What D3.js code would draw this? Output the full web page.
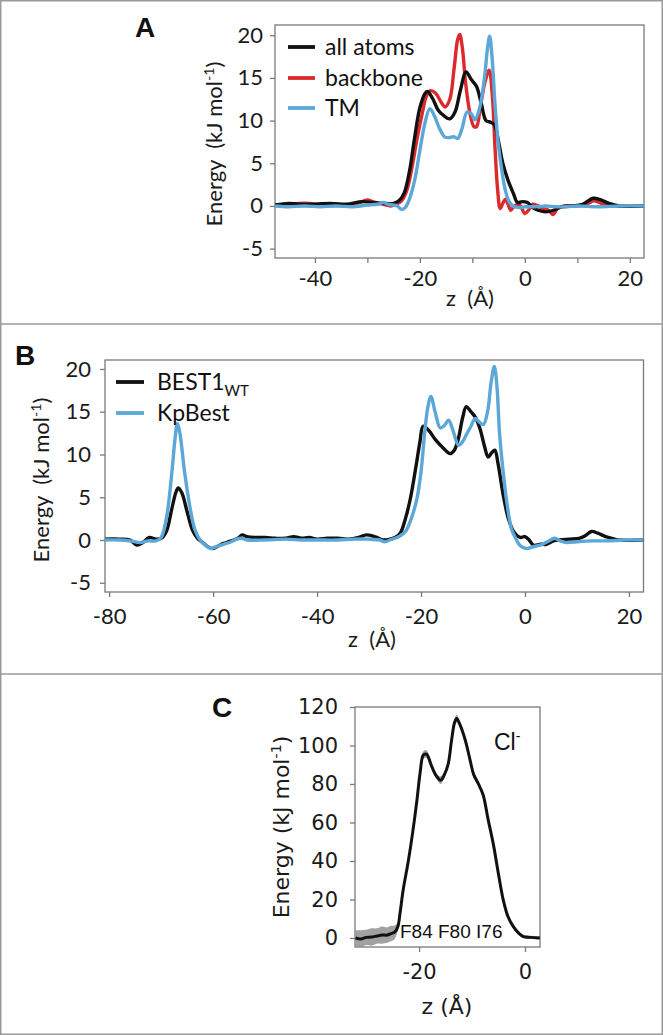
<!DOCTYPE html>
<html><head><meta charset="utf-8">
<script src="https://cdn.jsdelivr.net/npm/d3@7"></script>
<style>
html,body{margin:0;padding:0;background:#fff;}
svg text{white-space:pre;}
</style></head>
<body>
<svg id="fig" width="663" height="1035"></svg>
<script>
// ---------------- DATA ----------------
// Panel A: energy profiles (z in Å, energy in kJ/mol)
const aAllAtoms = [[-47.6,0.1],[-45,0.3],[-43,0.2],[-40,0.2],[-37,0.3],[-34,0.2],[-31,0.5],[-29,0.4],[-27,0.3],[-25,0.3],[-24,0.6],[-23,1.5],[-22,4],[-21,8],[-20,11.5],[-19,13.2],[-18.5,13.4],[-17.5,12.5],[-16.5,11.2],[-15.5,10.6],[-14.3,10.2],[-13.3,11],[-12.3,13.5],[-11.2,15.7],[-10.2,14.8],[-9.2,14],[-8.3,12],[-7.4,10],[-6.5,9.8],[-5.8,9.5],[-5,7.5],[-4.2,5],[-3.2,3],[-2.2,1.5],[-1.4,0.4],[-0.5,0.5],[0.5,0.4],[1.5,-0.2],[2.5,-0.5],[4,-0.7],[5.5,-0.5],[7,-0.1],[9,0],[11,0.2],[13,0.9],[14.5,0.7],[16,0.3],[18,0],[22.7,0]];
const aBackbone = [[-47.6,0.1],[-45,0.1],[-43,0.3],[-41,0.3],[-39,0.1],[-36,0.2],[-33,0.1],[-31,0.5],[-30,0.7],[-29,0.5],[-27,0.2],[-25.5,0],[-24.5,0.2],[-23.5,0.6],[-22.5,1.8],[-21.5,4.5],[-20.5,8],[-19.5,11],[-18.8,12.8],[-18,13.5],[-17,13.2],[-16,12.2],[-15.2,11.6],[-14.3,12.5],[-13.5,16],[-12.8,19.5],[-12.4,20.1],[-11.9,18.5],[-11.3,14.5],[-10.5,11],[-9.7,9.3],[-9.2,9.3],[-8.5,11.5],[-7.6,14.5],[-6.8,15.9],[-6.2,13],[-5.7,7],[-5.2,2],[-4.7,-0.3],[-4.2,0.3],[-3.7,0.8],[-3.2,0.2],[-2.7,-0.5],[-2,0],[-1,0.1],[0,-0.9],[0.7,-0.5],[1.5,0.2],[2.5,0],[3.5,-0.3],[4.5,-0.5],[5.4,-1.0],[6.2,-0.3],[7.5,0],[10,0],[12,0.3],[13.2,0.6],[15,0.2],[17,0],[22.7,0]];
const aTM = [[-47.6,0],[-45,-0.1],[-42,0],[-39,-0.1],[-36,0],[-33,-0.1],[-30,0.1],[-28,0.2],[-27,0.4],[-26,0.2],[-25,0.1],[-24.3,0],[-23.5,-0.4],[-22.8,-0.2],[-22,0.8],[-21,3],[-20,6.5],[-19,9.8],[-18.1,11.4],[-17.2,10.5],[-16.2,9],[-15.3,8.1],[-14.5,8],[-13.5,8.1],[-12.8,7.9],[-12,9],[-11,11],[-10.2,10.8],[-9.5,10.1],[-8.6,11.5],[-7.7,15],[-7.1,18.5],[-6.7,19.9],[-6.2,17],[-5.7,12],[-5.1,7.5],[-4.4,4.2],[-3.7,1.8],[-3,0.5],[-2.3,0],[-1,-0.2],[0,-0.1],[2,-0.1],[4,0],[6,-0.1],[8,-0.1],[10,0],[14,-0.1],[18,0],[22.7,0]];
const aSeriesNames = ["all atoms","backbone","TM"];
const aXTicks = [-40,-30,-20,-10,0,10,20];
const aXLabels = [-40,-20,0,20];
const aYTicks = [-5,0,5,10,15,20];

// Panel B
const bBest1 = [[-80.8,0.1],[-78,0.1],[-76,0],[-74.7,-0.6],[-73.5,-0.3],[-72.3,0.3],[-71,0.1],[-70,0.2],[-69,1],[-68,3.5],[-67.2,5.5],[-66.7,6.1],[-66,5.5],[-65,3.3],[-64,1.2],[-63,0.2],[-62,-0.3],[-61,-0.8],[-60.2,-1.0],[-59,-0.7],[-58,-0.4],[-57,-0.2],[-56,0],[-55,0.3],[-54.4,0.6],[-53.5,0.4],[-52,0.3],[-50,0.3],[-48,0.2],[-46,0.2],[-44.5,0.4],[-43,0.2],[-41.5,0.3],[-40,0.1],[-38,0.2],[-36,0.2],[-34,0.1],[-32,0.3],[-30.5,0.6],[-29.5,0.5],[-28.5,0.3],[-27.3,0],[-26,0.1],[-25,0.3],[-24,0.8],[-23,2.5],[-22,5],[-21,8.5],[-20.2,11.5],[-19.6,13.3],[-18.5,12.8],[-17.2,11.7],[-15.8,10.8],[-14.4,10.1],[-13.6,10.5],[-12.8,11.9],[-12,14.3],[-11.3,15.6],[-10.4,15],[-9.6,14.4],[-8.7,13.1],[-7.8,11],[-7.1,9.7],[-6.4,10.2],[-5.8,10.5],[-5.2,9],[-4.2,5.3],[-3.2,2.5],[-2.2,1.0],[-0.9,0.3],[0,0.4],[0.8,0],[1.6,-0.6],[3,-0.5],[4.1,-0.5],[5.5,-0.1],[6.6,0],[8.5,0.1],[10.4,0.2],[11.6,0.5],[12.8,1.0],[14,0.8],[15.5,0.4],[16.7,0.2],[18,0],[22.8,0]];
const bKpBest = [[-80.8,0],[-78,0],[-76,-0.1],[-74,-0.3],[-72.5,-0.1],[-71,-0.1],[-70,0.3],[-69,2.5],[-68,7.5],[-67.3,12],[-66.9,13.6],[-66.4,12.5],[-65.5,8],[-64.5,4],[-63.5,1.2],[-62.5,0],[-61.5,-0.6],[-60.5,-1.0],[-59.5,-0.8],[-58,-0.5],[-56.5,-0.2],[-55.5,0.1],[-54.5,0.2],[-53.5,0],[-50,0],[-46,0.1],[-43,0],[-40,0],[-36,0],[-33,0.1],[-30,0.1],[-28,0],[-27,-0.2],[-26,0],[-25,0.2],[-24,0.5],[-23,1.0],[-22,2.3],[-20.8,4.8],[-20,8],[-19.3,12.5],[-18.7,15.5],[-18.1,16.8],[-17.3,15],[-16.3,13.1],[-15.5,13.4],[-14.7,14.0],[-13.8,12.7],[-12.8,11.1],[-12,11.5],[-11.3,12.3],[-10.4,13.3],[-9.6,14.2],[-8.8,13.8],[-8.0,13.5],[-7.2,15],[-6.5,18.5],[-5.9,20.3],[-5.4,18],[-4.9,12.5],[-4.2,8.0],[-3.4,4],[-2.6,1.3],[-1.8,0.2],[-1.0,-0.6],[0.3,-1.0],[1.5,-0.8],[2.9,-0.6],[4.3,-0.2],[5.7,0.2],[6.8,-0.1],[8,-0.3],[10,-0.2],[13,-0.1],[16,-0.1],[19,0],[22.8,0]];
const bXTicks = [-80,-60,-40,-20,0,20];
const bYTicks = [-5,0,5,10,15,20];

// Panel C: Cl- PMF with error
const cZ   = [-32,-31,-30,-29,-28,-27,-26,-25.3,-24.6,-24,-23.6,-23,-22,-21.2,-20.4,-19.8,-19.2,-18.6,-17.6,-16.7,-15.9,-15.2,-14.5,-13.9,-13.3,-12.9,-12.3,-11.3,-10.5,-9.7,-8.8,-7.9,-7,-6,-5,-4.1,-3.2,-2.2,-1.2,-0.3,1,2.8];
const cE   = [0,-0.5,0.3,0.5,1,1.5,1.5,2.3,3,6,12.8,25,40.5,55,71.7,86,95,95.5,89,84,82,85,90.5,102,112,114,111,103,94,85,80,74.3,62,49,33,19.7,11,5.9,2.5,0.7,0.3,0];
const cErr = [4,4.5,4,4.5,4,4.5,4,4,3.5,2,1.5,1.5,1.5,1.5,1.5,1.5,2,2,1.5,1.5,2,1.5,1.5,1.5,2,2,1.5,1.5,1.5,1.5,1.2,1.2,1.2,1.2,1,1,1,1,1,0.8,0.8,0.8];
const cXTicks = [-20,0];
const cYTicks = [0,20,40,60,80,100,120];

// ---------------- DRAW ----------------
const svg = d3.select("#fig");
const FRAME = "#7a7a7a";
const BLACK = "#111111", RED = "#dc2a2c", BLUE = "#5ba7d8";
const FONT_AB = "Lato, 'Open Sans', sans-serif";
const FONT_C = "'DejaVu Sans', sans-serif";

// outer border and separators
svg.append("rect").attr("x",0.75).attr("y",0.75).attr("width",661.5).attr("height",1033.5)
  .attr("fill","none").attr("stroke","#9a9a9a").attr("stroke-width",1.5);
[324,674].forEach(yy=>svg.append("line").attr("x1",0).attr("x2",663).attr("y1",yy).attr("y2",yy)
  .attr("stroke","#9a9a9a").attr("stroke-width",1.5));

function panel(cfg){
  const g = svg.append("g");
  const x = d3.scaleLinear().domain(cfg.xd).range([cfg.L,cfg.R]);
  const y = d3.scaleLinear().domain(cfg.yd).range([cfg.B,cfg.T]);
  const xa = g.append("g").attr("transform",`translate(0,${cfg.B})`)
    .call(d3.axisBottom(x).tickValues(cfg.xTicks).tickSize(5).tickPadding(cfg.xPad));
  const ya = g.append("g").attr("transform",`translate(${cfg.L},0)`)
    .call(d3.axisLeft(y).tickValues(cfg.yTicks).tickSize(5).tickPadding(cfg.yPad));
  [xa,ya].forEach(a=>{
    a.select(".domain").remove();
    a.selectAll(".tick line").attr("stroke",FRAME).attr("stroke-width",1.3);
    a.selectAll(".tick text").attr("fill","#1a1a1a").style("font-family",cfg.font).style("font-size",cfg.tickSize+"px");
  });
  ya.selectAll(".tick text").text(d=> d<0 ? "-"+Math.abs(d) : d);
  xa.selectAll(".tick text").text(d=> cfg.xLabels.includes(d) ? (d<0 ? "-"+Math.abs(d) : d) : "");
  g.append("rect").attr("x",cfg.L).attr("y",cfg.T).attr("width",cfg.R-cfg.L).attr("height",cfg.B-cfg.T)
    .attr("fill","none").attr("stroke",FRAME).attr("stroke-width",1.3);
  const cid = "clip"+cfg.id;
  svg.append("clipPath").attr("id",cid).append("rect")
    .attr("x",cfg.L).attr("y",cfg.T).attr("width",cfg.R-cfg.L).attr("height",cfg.B-cfg.T);
  const plot = g.append("g").attr("clip-path",`url(#${cid})`);
  const yt = g.append("text").attr("transform",`translate(${cfg.ytX},${cfg.ytY}) rotate(-90)`)
    .attr("text-anchor","middle").style("font-family",cfg.font).style("font-size",cfg.titleSize+"px").attr("fill","#1a1a1a");
  yt.append("tspan").text(cfg.yTitle[0]);
  yt.append("tspan").attr("dy",-cfg.titleSize*0.38).style("font-size",(cfg.titleSize*0.65)+"px").text("-1");
  yt.append("tspan").attr("dy",cfg.titleSize*0.38).text(")");
  g.append("text").attr("x",cfg.xtX).attr("y",cfg.xtY).attr("text-anchor","middle")
    .style("font-family",cfg.font).style("font-size",cfg.titleSize+"px").attr("fill","#1a1a1a").text(cfg.xTitle);
  g.append("text").attr("x",cfg.lx).attr("y",cfg.ly).style("font-family","'Liberation Sans', Arial, sans-serif")
    .style("font-weight","bold").style("font-size","28px").attr("fill","#111").text(cfg.letter);
  return {g,x,y,plot};
}

const lineGen = (x,y)=> d3.line().x(d=>x(d[0])).y(d=>y(d[1])).curve(d3.curveCatmullRom.alpha(0.5));
const LW = 3.4;

// ----- Panel A -----
{
  const p = panel({id:"A",L:275,R:644,T:25,B:258,xd:[-47.6,22.7],yd:[-6.1,21.2],
    xTicks:aXTicks,xLabels:aXLabels,yTicks:aYTicks,xPad:7,yPad:7,font:FONT_AB,tickSize:22,titleSize:22,
    yTitle:["Energy  (kJ mol"],xTitle:"z  (Å)",ytX:222,ytY:144,xtX:470,xtY:306,letter:"A",lx:135,ly:37});
  const series = [[aAllAtoms,BLACK],[aBackbone,RED],[aTM,BLUE]];
  [[aBackbone,RED],[aAllAtoms,BLACK],[aTM,BLUE]].forEach(([d,c])=>{
    p.plot.append("path").datum(d).attr("d",lineGen(p.x,p.y)).attr("fill","none").attr("stroke",c)
      .attr("stroke-width",LW).attr("stroke-linejoin","round");
  });
  const ly = [47,78,108];
  series.forEach(([d,c],i)=>{
    p.g.append("line").attr("x1",288).attr("x2",315).attr("y1",ly[i]).attr("y2",ly[i]).attr("stroke",c).attr("stroke-width",3.8);
    p.g.append("text").attr("x",325).attr("y",ly[i]).attr("dy","0.35em").style("font-family",FONT_AB)
      .style("font-size","23px").attr("fill","#111").text(aSeriesNames[i]);
  });
}

// ----- Panel B -----
{
  const p = panel({id:"B",L:105,R:643.5,T:360,B:592,xd:[-80.8,22.8],yd:[-6.08,21.05],
    xTicks:bXTicks,xLabels:bXTicks,yTicks:bYTicks,xPad:11,yPad:9,font:FONT_AB,tickSize:22,titleSize:22,
    yTitle:["Energy  (kJ mol"],xTitle:"z  (Å)",ytX:49,ytY:480,xtX:372,xtY:647,letter:"B",lx:15,ly:365});
  [[bBest1,BLACK],[bKpBest,BLUE]].forEach(([d,c])=>{
    p.plot.append("path").datum(d).attr("d",lineGen(p.x,p.y)).attr("fill","none").attr("stroke",c)
      .attr("stroke-width",LW).attr("stroke-linejoin","round");
  });
  const ly = [382,413];
  [BLACK,BLUE].forEach((c,i)=>p.g.append("line").attr("x1",116).attr("x2",144).attr("y1",ly[i]).attr("y2",ly[i]).attr("stroke",c).attr("stroke-width",3.8));
  const t1 = p.g.append("text").attr("x",157).attr("y",ly[0]).attr("dy","0.35em").style("font-family",FONT_AB).style("font-size","23px").attr("fill","#111");
  t1.append("tspan").text("BEST1");
  t1.append("tspan").attr("dy",6).style("font-size","15px").text("WT");
  p.g.append("text").attr("x",157).attr("y",ly[1]).attr("dy","0.35em").style("font-family",FONT_AB).style("font-size","23px").attr("fill","#111").text("KpBest");
}

// ----- Panel C -----
{
  const p = panel({id:"C",L:355,R:540,T:707,B:947,xd:[-32.1,2.83],yd:[-4.7,120],
    xTicks:cXTicks,xLabels:cXTicks,yTicks:cYTicks,xPad:12,yPad:12,font:FONT_C,tickSize:21,titleSize:22,
    yTitle:["Energy (kJ mol"],xTitle:"z (Å)",ytX:289,ytY:827,xtX:447,xtY:1014,letter:"C",lx:212,ly:717});
  const cData = cZ.map((z,i)=>({z,e:cE[i],s:cErr[i]}));
  p.plot.append("path").datum(cData)
    .attr("d",d3.area().x(d=>p.x(d.z)).y0(d=>p.y(d.e-d.s)).y1(d=>p.y(d.e+d.s)).curve(d3.curveCatmullRom))
    .attr("fill","#8a8a8a").attr("opacity",0.8);
  p.plot.append("path").datum(cData)
    .attr("d",d3.line().x(d=>p.x(d.z)).y(d=>p.y(d.e)).curve(d3.curveCatmullRom))
    .attr("fill","none").attr("stroke",BLACK).attr("stroke-width",3);
  const cl = p.g.append("text").attr("x",494).attr("y",750).style("font-family","'Liberation Sans', Arial, sans-serif").style("font-size","23px").attr("fill","#111");
  cl.append("tspan").text("Cl");
  cl.append("tspan").attr("dy",-9).style("font-size","14px").text("-");
  p.g.append("text").attr("x",400).attr("y",938).style("font-family","'Liberation Sans', Arial, sans-serif").style("font-size","19px").attr("fill","#111").text("F84 F80 I76");
}
</script>
</body></html>
